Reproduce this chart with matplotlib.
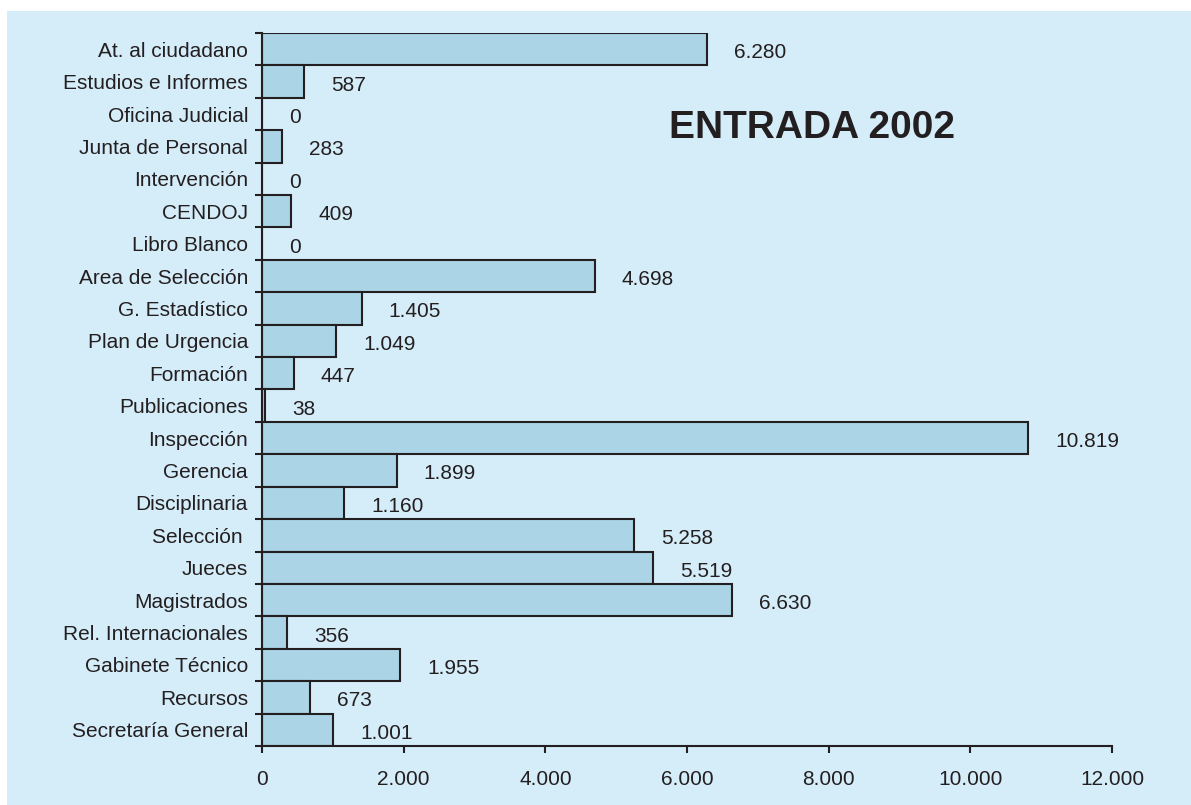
import matplotlib
matplotlib.use("Agg")
import matplotlib.pyplot as plt
from matplotlib.patches import Rectangle
from matplotlib.ticker import FuncFormatter, FixedLocator

plt.rcParams['font.family'] = ['Liberation Sans', 'DejaVu Sans']

categories = ["At. al ciudadano", "Estudios e Informes", "Oficina Judicial",
              "Junta de Personal", "Intervención", "CENDOJ", "Libro Blanco",
              "Area de Selección", "G. Estadístico", "Plan de Urgencia",
              "Formación", "Publicaciones", "Inspección", "Gerencia",
              "Disciplinaria", "Selección ", "Jueces", "Magistrados",
              "Rel. Internacionales", "Gabinete Técnico", "Recursos",
              "Secretaría General"]
values = [6280, 587, 0, 283, 0, 409, 0, 4698, 1405, 1049, 447, 38, 10819,
          1899, 1160, 5258, 5519, 6630, 356, 1955, 673, 1001]
title = "ENTRADA 2002"
xticks = [0, 2000, 4000, 6000, 8000, 10000, 12000]

BG = "#D5ECF9"
BAR = "#ABD4E6"
INK = "#231F20"

def fmt(v):
    return f"{int(v):,}".replace(",", ".")

fig = plt.figure(figsize=(11.91, 8.05), dpi=100)
fig.patch.set_facecolor("white")
fig.patches.append(Rectangle((7/1191, 0), 1, 1 - 11/805, transform=fig.transFigure,
                             facecolor=BG, edgecolor="none", zorder=-10))

ax = fig.add_axes([262/1191, 1 - 746/805, (1112 - 262)/1191, (746 - 33)/805])
ax.set_facecolor("none")

n = len(categories)
ypos = list(range(n))[::-1]
ax.barh(ypos, values, height=1.0, color=BAR, edgecolor=INK, linewidth=1.5)

for y, v in zip(ypos, values):
    ax.annotate(fmt(v), (v, y), xytext=(19.5, -2.5), textcoords="offset points",
                ha="left", va="center", fontsize=15, color=INK)

ax.set_xlim(0, 12000)
ax.set_ylim(-0.5, n - 0.5)
ax.set_xticks(xticks)
ax.xaxis.set_major_formatter(FuncFormatter(lambda v, p: fmt(v)))
ax.set_yticks(ypos)
ax.set_yticklabels(categories)
ax.yaxis.set_minor_locator(FixedLocator([i - 0.5 for i in range(n + 1)]))

ax.tick_params(axis="y", which="major", length=0, pad=10, labelsize=15, labelcolor=INK)
ax.tick_params(axis="y", which="minor", length=5, width=1.5, color=INK, direction="out")
ax.tick_params(axis="x", which="major", length=5, width=1.5, color=INK, direction="out",
               pad=12, labelsize=15, labelcolor=INK)

for s in ["top", "right"]:
    ax.spines[s].set_visible(False)
for s in ["left", "bottom"]:
    ax.spines[s].set_linewidth(1.5)
    ax.spines[s].set_color(INK)

fig.text(812/1191, 1 - 128/805, title, ha="center", va="center", fontsize=28,
         fontweight="bold", color=INK)

fig.savefig("out.png", dpi=100)
